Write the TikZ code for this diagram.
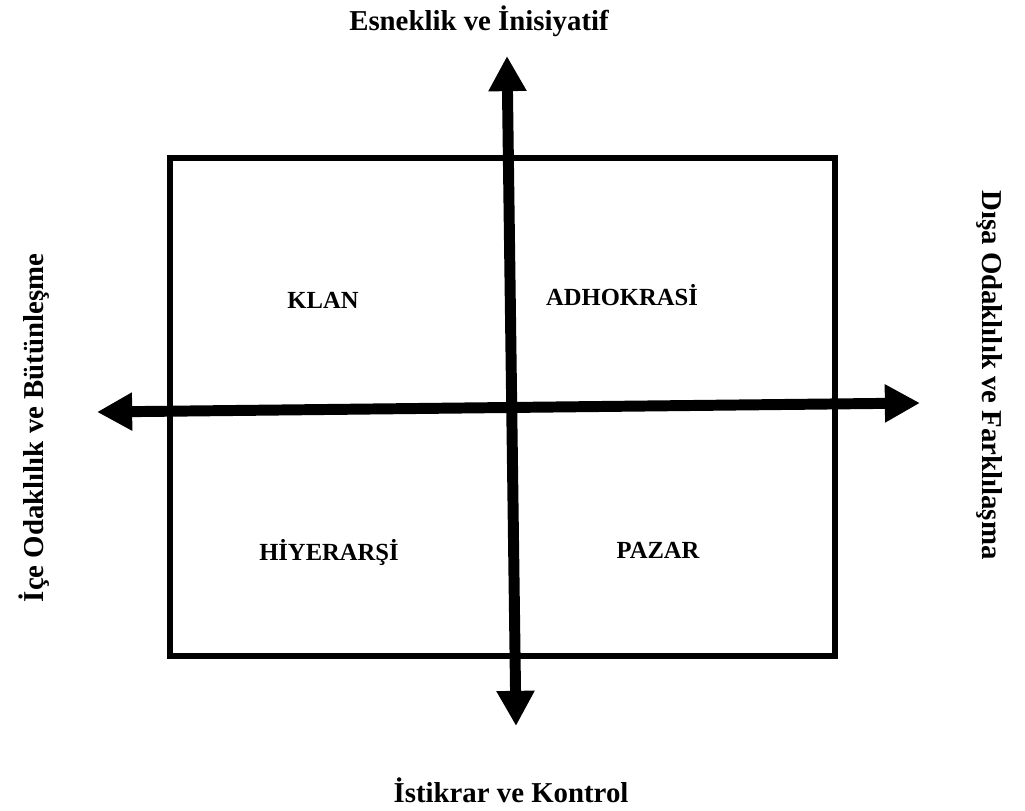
\documentclass[tikz,border=0pt]{standalone}
\usepackage{fontspec}
\setmainfont{Liberation Serif}
\usetikzlibrary{arrows.meta}

\tikzset{
  axislabel/.style={font=\bfseries\fontsize{20.5}{24}\selectfont, anchor=base},
  quadlabel/.style={font=\bfseries\fontsize{17.5}{21}\selectfont, anchor=base},
  axisarrow/.style={line width=7.8pt,
    {Triangle[length=25pt,width=25.5pt]}-{Triangle[length=25pt,width=25.5pt]}},
}

\begin{document}
\begin{tikzpicture}[x=0.25mm,y=-0.25mm]
\useasboundingbox (0,0) rectangle (1025,811);

\draw[line width=3.6pt] (170,158) rectangle (835,656);

\coordinate (top) at (507,56);
\coordinate (bottom) at (516,726);
\coordinate (left) at (97,412);
\coordinate (right) at (920,403);

\draw[axisarrow] (top) -- (bottom);
\draw[axisarrow] (left) -- (right);

\node[quadlabel] (klan) at (323,308) {KLAN};
\node[quadlabel] (adhokrasi) at (622,305) {ADHOKRASİ};
\node[quadlabel] (hiyerarsi) at (329,560) {HİYERARŞİ};
\node[quadlabel] (pazar) at (658,558) {PAZAR};

\node[axislabel] (esneklik) at (479,31) {Esneklik ve İnisiyatif};
\node[axislabel] (istikrar) at (511,802) {İstikrar ve Kontrol};
\node[axislabel, rotate=90] (ice) at (43,428) {İçe Odaklılık ve Bütünleşme};
\node[axislabel, rotate=-90] (disa) at (982,375) {Dışa Odaklılık ve Farklılaşma};
\end{tikzpicture}
\end{document}
